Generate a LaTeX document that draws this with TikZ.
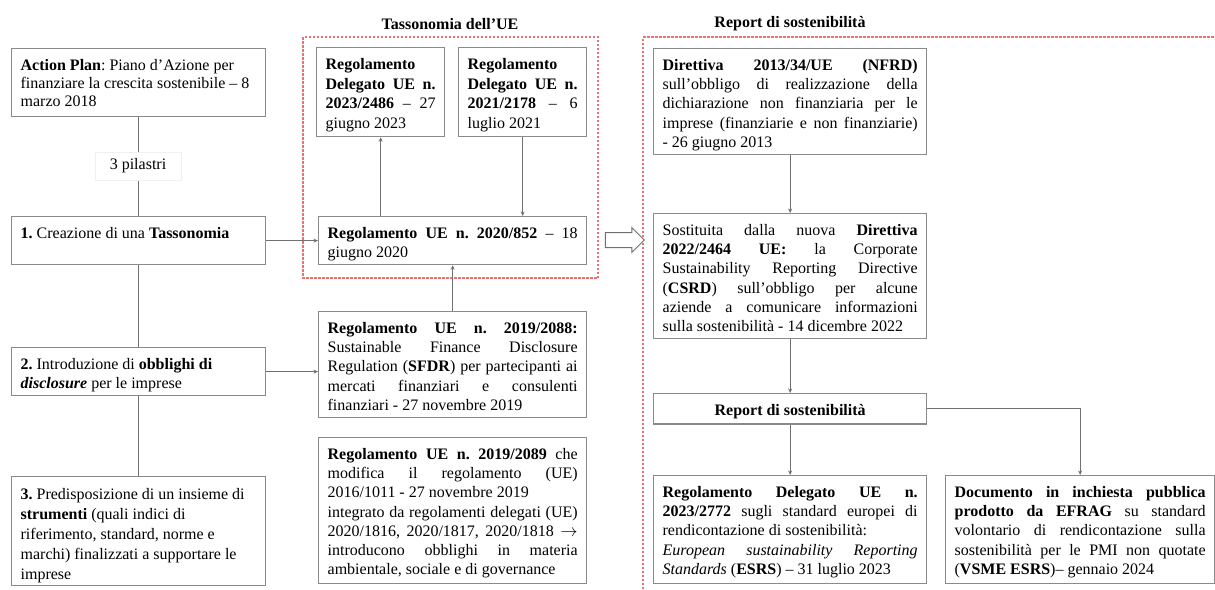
\documentclass[tikz,border=0pt]{standalone}
\usepackage{fontspec}
\setmainfont{Liberation Serif}
\usetikzlibrary{arrows.meta,shapes.arrows}
\hyphenpenalty=10000
\exhyphenpenalty=10000
\frenchspacing
\definecolor{boxgray}{HTML}{8A8A8A}
\definecolor{linegray}{HTML}{707070}
\definecolor{framered}{HTML}{F07070}
\newcommand{\fs}{\fontsize{16}{19.2}\selectfont}
\newcommand{\bx}[7]{%
  \node[bxs] (#1) at (#2,#3) {\begin{minipage}[t][\dimexpr#5pt-17pt\relax][t]{\dimexpr#4pt-18pt\relax}\fs\frenchspacing\tolerance=9999 #6\strut #7\end{minipage}};}
\begin{document}
\begin{tikzpicture}[x=1pt,y=-1pt,
  bxs/.style={draw=boxgray, line width=1.3pt, inner xsep=9pt, inner ysep=8.5pt, anchor=north west, fill=white},
  conn/.style={draw=linegray, line width=1pt},
  arr/.style={conn, -{Stealth[length=4.5pt,width=4pt]}},
  frame/.style={draw=framered, line width=1.5pt, dash pattern=on 2.5pt off 1.5pt},
  ttl/.style={font=\fs\bfseries, inner sep=0pt}]
\useasboundingbox (0,0) rectangle (1215,589);
\fill[white] (0,0) rectangle (1215,589);

% frames
\draw[frame] (303,37) rectangle (598,278);
\draw[frame] (643,589) -- (643,37) -- (1215,37);
\node[ttl] (t1) at (450,24) {Tassonomia dell'UE};
\node[ttl] (t2) at (790,24) {Report di sostenibilità};

% left column
\bx{AP}{11}{48}{254}{68}{\raggedright\fontsize{16}{18.4}\selectfont}{\textbf{Action Plan}: Piano d'Azione per finanziare la crescita sostenibile – 8 marzo 2018}
\bx{B1}{11}{216}{254}{48}{\raggedright}{\textbf{1.} Creazione di una \textbf{Tassonomia}}
\bx{B2}{11}{347}{254}{48}{\raggedright}{\textbf{2.} Introduzione di \textbf{obblighi di \textit{disclosure}} per le imprese}
\bx{B3}{11}{476}{254}{109}{\raggedright\fontsize{16}{20}\selectfont}{\textbf{3.} Predisposizione di un insieme di \textbf{strumenti} (quali indici di riferimento, standard, norme e marchi) finalizzati a supportare le imprese}

% tassonomia
\bx{T1}{316}{47}{128}{89}{\fontsize{16}{19.5}\selectfont}{\textbf{Regolamento Delegato UE n. 2023/2486} – 27 giugno 2023}
\bx{T2}{458}{47}{128}{89}{\fontsize{16}{19.5}\selectfont}{\textbf{Regolamento Delegato UE n. 2021/2178} – 6 luglio 2021}
\bx{T3}{318}{216}{268}{48}{}{\textbf{Regolamento UE n. 2020/852} – 18 giugno 2020}

% middle
\bx{M1}{318}{311}{268}{106}{}{\textbf{Regolamento UE n. 2019/2088:}\linebreak Sustainable Finance Disclosure\linebreak Regulation (\textbf{SFDR}) per partecipanti ai\linebreak mercati finanziari e consulenti\linebreak finanziari - 27 novembre 2019}
\bx{M2}{318}{437}{268}{146}{}{\textbf{Regolamento UE n. 2019/2089} che\linebreak modifica il regolamento (UE)\linebreak 2016/1011 - 27 novembre 2019\par integrato da regolamenti delegati (UE)\linebreak 2020/1816, 2020/1817, 2020/1818 $\rightarrow$\linebreak introducono obblighi in materia\linebreak ambientale, sociale e di governance}

% report
\bx{R1}{653}{48}{273}{106}{}{\textbf{Direttiva 2013/34/UE (NFRD)}\linebreak sull'obbligo di realizzazione della\linebreak dichiarazione non finanziaria per le\linebreak imprese (finanziarie e non finanziarie)\linebreak - 26 giugno 2013}
\bx{R2}{653}{213}{273}{125}{}{Sostituita dalla nuova \textbf{Direttiva}\linebreak \textbf{2022/2464 UE:} la Corporate\linebreak Sustainability Reporting Directive\linebreak (\textbf{CSRD}) sull'obbligo per alcune\linebreak aziende a comunicare informazioni\linebreak sulla sostenibilità - 14 dicembre 2022}
\bx{R3}{653}{393}{273}{29}{\centering}{\textbf{Report di sostenibilità}}
\bx{R4}{653}{475}{273}{108}{}{\textbf{Regolamento Delegato UE n.}\linebreak \textbf{2023/2772} sugli standard europei di\linebreak rendicontazione di sostenibilità:\par \textit{European sustainability Reporting}\linebreak \textit{Standards} (\textbf{ESRS}) – 31 luglio 2023}
\bx{R5}{945}{475}{269}{108}{}{\textbf{Documento in inchiesta pubblica}\linebreak \textbf{prodotto da EFRAG} su standard\linebreak volontario di rendicontazione sulla\linebreak sostenibilità per le PMI non quotate\linebreak (\textbf{VSME ESRS})– gennaio 2024}

% left connectors
\draw[conn] (AP.south) -- (B1.north);
\draw[conn] (B1.south) -- (B2.north);
\draw[conn] (B2.south) -- (B3.north);
\node[fill=white, draw=gray!12, minimum width=86pt, minimum height=28pt, inner sep=0pt, font=\fs] (pil) at (138,166) {3 pilastri};

% arrows
\draw[arr] (B1.east) -- (T3.west);
\draw[arr] (T3.north -| T1.south) -- (T1.south);
\draw[arr] (T2.south) -- (T2.south |- T3.north);
\draw[arr] (M1.north) -- (M1.north |- T3.south);
\draw[arr] (B2.east) -- (B2.east -| M1.west);
\draw[arr] (R1.south) -- (R2.north);
\draw[arr] (R2.south) -- (R3.north);
\draw[arr] (R3.south) -- (R4.north);
\draw[arr] (R3.east) -| (R5.north);

% hollow arrow
\node[single arrow, draw=linegray, fill=white, line width=1pt, minimum height=39pt, minimum width=24pt, single arrow head extend=5pt, inner xsep=0pt, inner ysep=7pt, anchor=center] (ha) at (621,240) {};
\end{tikzpicture}
\end{document}
